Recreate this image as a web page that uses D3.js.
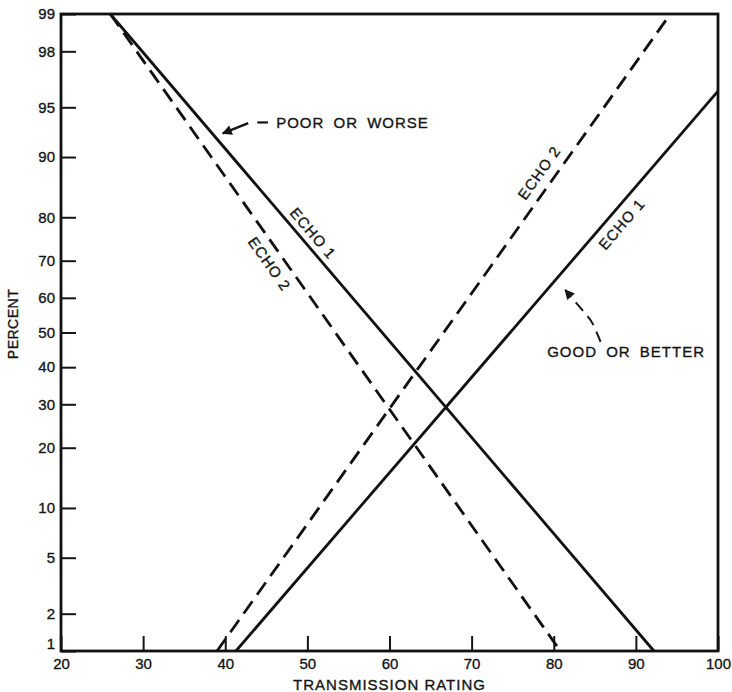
<!DOCTYPE html>
<html>
<head>
<meta charset="utf-8">
<script src="https://cdn.jsdelivr.net/npm/d3@7/dist/d3.min.js"></script>
<style>
body { margin: 0; background: #fff; }
text { font-family: "Liberation Sans", Arial, sans-serif; fill: #151515; stroke: #151515; stroke-width: 0.35px; }
</style>
</head>
<body>
<script>
"use strict";
// values
const ratingTicks = [20, 30, 40, 50, 60, 70, 80, 90, 100];
const percentTicks = [1, 2, 5, 10, 20, 30, 40, 50, 60, 70, 80, 90, 95, 98, 99];
const poorEcho1 = [{rating: 26.0, pct: 99}, {rating: 92.2, pct: 1}];
const poorEcho2 = [{rating: 26.0, pct: 99}, {rating: 80.8, pct: 1}];
const goodEcho1 = [{rating: 41.3, pct: 1}, {rating: 100, pct: 96.1}];
const goodEcho2 = [{rating: 39.0, pct: 1}, {rating: 94.2, pct: 99}];
const poorArrow = [{rating: 45.2, pct: 93.75}, {rating: 43.9, pct: 93.75}, {rating: 42.8, pct: 93.7}, {rating: 39.7, pct: 92.7}];
const goodArrow = [{rating: 85.7, pct: 47.3}, {rating: 84.7, pct: 53.1}, {rating: 84.2, pct: 54.5}, {rating: 81.4, pct: 62.2}];
const poorText = {rating: 46.2, pct: 93.75, text: "POOR OR WORSE"};
const goodText = {rating: 79.2, pct: 44.6, text: "GOOD OR BETTER"};

const size = {width: 732, height: 692};
const margin = {top: 14, right: 14, bottom: 41, left: 61};

// inverse normal cdf (Acklam)
function probit(p) {
	const a = [-3.969683028665376e+01, 2.209460984245205e+02, -2.759285104469687e+02, 1.383577518672690e+02, -3.066479806614716e+01, 2.506628277459239e+00];
	const b = [-5.447609879822406e+01, 1.615858368580409e+02, -1.556989798598866e+02, 6.680131188771972e+01, -1.328068155288572e+01];
	const c = [-7.784894002430293e-03, -3.223964580411365e-01, -2.400758277161838e+00, -2.549732539343734e+00, 4.374664141464968e+00, 2.938163982698783e+00];
	const d = [7.784695709041462e-03, 3.224671290700398e-01, 2.445134137142996e+00, 3.754408661907416e+00];
	const pl = 0.02425;
	let q, r;
	if (p < pl) {
		q = Math.sqrt(-2 * Math.log(p));
		return (((((c[0]*q+c[1])*q+c[2])*q+c[3])*q+c[4])*q+c[5]) / ((((d[0]*q+d[1])*q+d[2])*q+d[3])*q+1);
	}
	if (p <= 1 - pl) {
		q = p - 0.5; r = q * q;
		return (((((a[0]*r+a[1])*r+a[2])*r+a[3])*r+a[4])*r+a[5])*q / (((((b[0]*r+b[1])*r+b[2])*r+b[3])*r+b[4])*r+1);
	}
	q = Math.sqrt(-2 * Math.log(1 - p));
	return -(((((c[0]*q+c[1])*q+c[2])*q+c[3])*q+c[4])*q+c[5]) / ((((d[0]*q+d[1])*q+d[2])*q+d[3])*q+1);
}

const xScale = d3.scaleLinear().domain([20, 100]).range([margin.left, size.width - margin.right]);
const zScale = d3.scaleLinear().domain([probit(0.01), probit(0.99)]).range([size.height - margin.bottom, margin.top]);
const yOf = pct => zScale(probit(pct / 100));

const svg = d3.select("body").append("svg").attr("width", size.width).attr("height", size.height);

const defs = svg.append("defs");
defs.append("marker").attr("id", "head").attr("viewBox", "0 0 10 10").attr("refX", 9).attr("refY", 5)
	.attr("markerWidth", 14).attr("markerHeight", 10).attr("markerUnits", "userSpaceOnUse").attr("orient", "auto")
	.append("path").attr("d", "M0,0L10,5L0,10Z").attr("fill", "#151515");

// axes, ticks pointing into the plot
const xAxis = d3.axisBottom(xScale).tickValues(ratingTicks).tickSizeInner(-15).tickSizeOuter(0).tickPadding(7);
const gx = svg.append("g").attr("transform", "translate(0," + (size.height - margin.bottom) + ")").call(xAxis);
const yAxis = d3.axisLeft(zScale).tickValues(percentTicks.map(p => probit(p / 100)))
	.tickFormat((d, i) => percentTicks[i]).tickSizeInner(-15).tickSizeOuter(0).tickPadding(6);
const gy = svg.append("g").attr("transform", "translate(" + margin.left + ",0)").call(yAxis);
[gx, gy].forEach(g => {
	g.select(".domain").remove();
	g.selectAll(".tick line").attr("stroke", "#151515").attr("stroke-width", 2);
	g.selectAll(".tick text").attr("font-size", 15).attr("fill", "#151515").style("font-family", "'Liberation Sans', Arial, sans-serif");
});
gy.selectAll(".tick text").filter((d, i) => percentTicks[i] === 1).attr("dy", "-0.15em");

svg.append("rect").attr("x", margin.left).attr("y", margin.top)
	.attr("width", size.width - margin.left - margin.right).attr("height", size.height - margin.top - margin.bottom)
	.attr("fill", "none").attr("stroke", "#111").attr("stroke-width", 2.8);

svg.append("text").attr("x", (margin.left + size.width - margin.right) / 2).attr("y", 690)
	.attr("text-anchor", "middle").attr("font-size", 15).attr("letter-spacing", 1).text("TRANSMISSION RATING");
svg.append("text").attr("transform", "translate(18,324) rotate(-90)")
	.attr("text-anchor", "middle").attr("font-size", 14).attr("letter-spacing", 0.5).text("PERCENT");

// the four lines, straight on the probability scale
const series = [
	{name: "ECHO 1", points: poorEcho1, dashed: false, labelAt: 49.6, offset: -12},
	{name: "ECHO 2", points: poorEcho2, dashed: true, labelAt: 46.8, offset: 14},
	{name: "ECHO 1", points: goodEcho1, dashed: false, labelAt: 87.0, offset: 13.5},
	{name: "ECHO 2", points: goodEcho2, dashed: true, labelAt: 79.7, offset: -15}
];
const line = d3.line().x(d => xScale(d.rating)).y(d => yOf(d.pct));
svg.append("g").selectAll("path").data(series).enter().append("path")
	.attr("d", s => line(s.points)).attr("fill", "none").attr("stroke", "#111")
	.attr("stroke-width", 2.8).attr("stroke-dasharray", s => s.dashed ? "15,8" : null);

svg.append("g").selectAll("text").data(series).enter().append("text")
	.attr("transform", s => {
		const p0 = s.points[0], p1 = s.points[1];
		const z0 = probit(p0.pct / 100), z1 = probit(p1.pct / 100);
		const z = z0 + (s.labelAt - p0.rating) / (p1.rating - p0.rating) * (z1 - z0);
		const ang = Math.atan2(yOf(p1.pct) - yOf(p0.pct), xScale(p1.rating) - xScale(p0.rating)) * 180 / Math.PI;
		const a = Math.abs(ang) > 90 ? ang - 180 * Math.sign(ang) : ang;
		return "translate(" + xScale(s.labelAt) + "," + zScale(z) + ") rotate(" + a + ") translate(0," + s.offset + ")";
	})
	.attr("text-anchor", "middle").attr("dominant-baseline", "central")
	.attr("font-size", 15).attr("letter-spacing", 1).text(s => s.name);

// annotations
const curve = d3.line().x(d => xScale(d.rating)).y(d => yOf(d.pct)).curve(d3.curveBasis);
svg.append("path").attr("d", line(poorArrow.slice(0, 2))).attr("stroke", "#151515").attr("stroke-width", 2.2).attr("fill", "none");
svg.append("path").attr("d", line(poorArrow.slice(2))).attr("stroke", "#151515").attr("stroke-width", 2.4)
	.attr("fill", "none").attr("marker-end", "url(#head)");
svg.append("path").attr("d", curve(goodArrow)).attr("stroke", "#151515").attr("stroke-width", 2)
	.attr("fill", "none").attr("stroke-dasharray", "11,7").attr("marker-end", "url(#head)");
[poorText, goodText].forEach(t => {
	svg.append("text").attr("x", xScale(t.rating)).attr("y", yOf(t.pct)).attr("dominant-baseline", "central")
		.attr("font-size", 15).attr("letter-spacing", 1).attr("word-spacing", 4).text(t.text);
});
</script>
</body>
</html>
